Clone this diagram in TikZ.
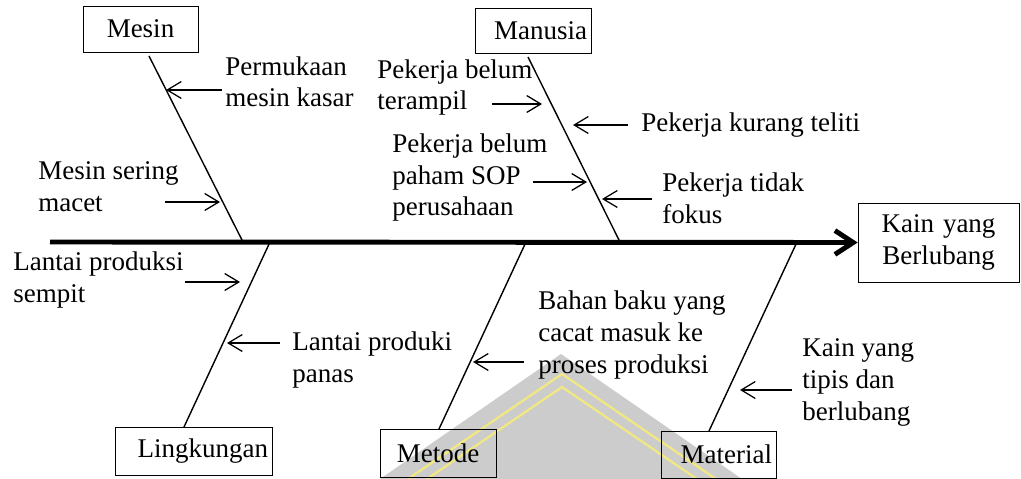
\documentclass[tikz,border=0pt]{standalone}
\usepackage{fontspec}
\setmainfont{Liberation Serif}
\usetikzlibrary{arrows.meta}
\definecolor{wmgray}{RGB}{204,204,204}
\definecolor{wmyellow}{RGB}{242,232,130}

\begin{document}
\begin{tikzpicture}[x=0.025cm,y=-0.025cm,
  box/.style={draw, thin, inner xsep=0.1cm, inner ysep=0pt, align=right, font=\fontsize{19.2}{22.7}\selectfont},
  txt/.style={anchor=base west, align=left, inner sep=0pt, font=\fontsize{19.2}{22.7}\selectfont},
  bone/.style={line width=1pt},
  cause/.style={line width=0.9pt, -{Straight Barb[length=10pt,width=12pt]}}]
\useasboundingbox (0,0) rectangle (1021,479);

%Wasserzeichen unten
\fill[wmgray] (561,354) -- (380,479) -- (742,479) -- cycle;
\draw[wmyellow, line width=1.6pt] (408,479) -- (562,374) -- (716,479);
\draw[wmyellow, line width=1.6pt] (427,479) -- (562,387) -- (697,479);

%Kepala und Hauptachse
\node[box, align=center, text width=3.825cm, minimum height=1.975cm] (kain) at (938.5,242.5) {Kain yang\\Berlubang};
\coordinate (ekor) at (50,242);
\draw[line width=3.5pt, -{Straight Barb[length=13pt,width=17pt]}] (ekor) -- (kain.west);

%Kategorien
\node[box, align=center, text width=2.675cm, minimum height=1.15cm] (mesin) at (140.5,29) {Mesin};
\node[box, text width=2.7cm, minimum height=1.125cm] (manusia) at (533,30.5) {Manusia};
\node[box, text width=3.725cm, minimum height=1.2cm] (lingkungan) at (193.5,451) {Lingkungan};
\node[box, align=center, text width=2.7cm, minimum height=1.2cm] (metode) at (438,453) {Metode};
\node[box, text width=2.675cm, minimum height=1.175cm] (material) at (718.5,454.5) {Material};

%Gräten
\coordinate (m0) at (149,56);   \coordinate (m1) at (243,242);
\coordinate (u0) at (528,57);   \coordinate (u1) at (620,242);
\coordinate (l0) at (184,427);  \coordinate (l1) at (270,242);
\coordinate (t0) at (439,429);  \coordinate (t1) at (526,242);
\coordinate (a0) at (709,431);  \coordinate (a1) at (797,242);
\draw[bone] (m0) -- (m1);
\draw[bone] (u0) -- (u1);
\draw[bone] (l0) -- (l1);
\draw[bone] (t0) -- (t1);
\draw[bone] (a0) -- (a1);

%Ursachen Mesin
\node[txt] (permukaan) at (225,107) {Permukaan\\mesin kasar};
\coordinate (p0) at (222,90); \coordinate (p1) at (166,90);
\draw[cause] (p0) -- (p1);
\node[txt] (sering) at (38,211) {Mesin sering\\macet};
\coordinate (s0) at (165,202); \coordinate (s1) at (220,202);
\draw[cause] (s0) -- (s1);

%Ursachen Manusia
\node[txt] (terampil) at (377,110) {Pekerja belum\\terampil};
\coordinate (r0) at (492,104); \coordinate (r1) at (542,104);
\draw[cause] (r0) -- (r1);
\node[txt] (teliti) at (641,132) {Pekerja kurang teliti};
\coordinate (k0) at (628,125); \coordinate (k1) at (573,125);
\draw[cause] (k0) -- (k1);
\node[txt] (sop) at (392,216) {Pekerja belum\\paham SOP\\perusahaan};
\coordinate (o0) at (533,182); \coordinate (o1) at (587,182);
\draw[cause] (o0) -- (o1);
\node[txt] (fokus) at (662,223) {Pekerja tidak\\fokus};
\coordinate (f0) at (652,199); \coordinate (f1) at (602,199);
\draw[cause] (f0) -- (f1);

%Ursachen Lingkungan
\node[txt] (sempit) at (13,302) {Lantai produksi\\sempit};
\coordinate (e0) at (185,282); \coordinate (e1) at (240,282);
\draw[cause] (e0) -- (e1);
\node[txt] (panas) at (292,382) {Lantai produki\\panas};
\coordinate (n0) at (280,343); \coordinate (n1) at (227,343);
\draw[cause] (n0) -- (n1);

%Ursachen Metode und Material
\node[txt] (bahan) at (538,373) {Bahan baku yang\\cacat masuk ke\\proses produksi};
\coordinate (b0) at (524,362); \coordinate (b1) at (473,362);
\draw[cause] (b0) -- (b1);
\node[txt] (tipis) at (802,420) {Kain yang\\tipis dan\\berlubang};
\coordinate (i0) at (792,390); \coordinate (i1) at (740,390);
\draw[cause] (i0) -- (i1);

\end{tikzpicture}
\end{document}
